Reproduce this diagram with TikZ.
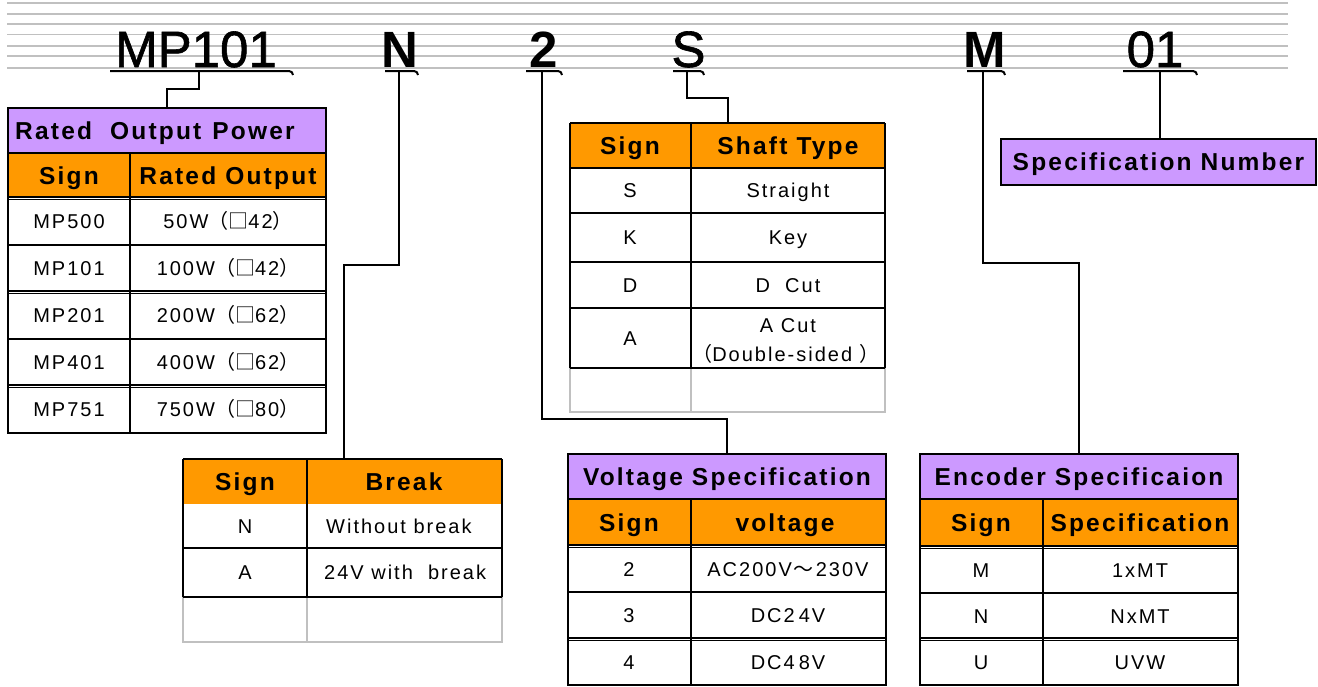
\documentclass[tikz,border=0pt]{standalone}
\usepackage{fontspec}
\setmainfont{Liberation Sans}
\newfontfamily\dfont[LetterSpace=10]{Liberation Sans}
\newfontfamily\tfont[LetterSpace=9]{Liberation Sans}
\newfontfamily\hfont[FakeBold=1.2]{Liberation Sans}
\newfontfamily\cjk{Noto Sans CJK JP}
\definecolor{purp}{HTML}{CC99FF}
\definecolor{orng}{HTML}{FF9900}
\definecolor{grayl}{HTML}{C0C0C0}
\tikzset{
  big/.style={font={\hfont\fontsize{51}{60}\selectfont}, inner sep=0pt, anchor=base},
  bigb/.style={font={\fontsize{51}{60}\selectfont\bfseries}, inner sep=0pt, anchor=base},
  ttl/.style={font={\tfont\fontsize{24.5}{29}\selectfont\bfseries}, inner sep=0pt, text height=17.5pt, text depth=0pt},
  dat/.style={font={\dfont\fontsize{20}{24}\selectfont}, inner sep=0pt, text height=14.3pt, text depth=0pt},
  bline/.style={line width=2.8pt},
  dline/.style={line width=3.8pt},
  dgap/.style={white, line width=0.9pt},
  gline/.style={draw=grayl, line width=2pt},
  conn/.style={line width=1.8pt},
  uline/.style={line width=2pt},
  stripe/.style={draw=grayl, line width=1.7pt}
}
\newcommand\ulmark[2]{\draw[uline] (#1,71) -- (#2-4,71) to[out=0,in=90] (#2,75);}
\begin{document}
\begin{tikzpicture}[x=1pt,y=-1pt]
\useasboundingbox (0,0) rectangle (1318,686);

% ---------- header code ----------
\foreach \y in {3.3,14,24.3,34.5,45.7,56,67.8} \draw[stripe] (7,\y) -- (1288,\y);
\node[big]  (h1) at (196,67)   {MP101};
\node[bigb] (h2) at (400,67)   {N};
\node[bigb] (h3) at (543.5,67) {2};
\node[big]  (h4) at (688.5,67) {S};
\node[bigb] (h5) at (985,67)   {M};
\node[big]  (h6) at (1155,67)  {01};
\ulmark{110}{293}
\ulmark{385}{418}
\ulmark{526}{562}
\ulmark{673}{704}
\ulmark{967}{1005}
\ulmark{1123}{1197}

% ---------- table 1: Rated Output Power ----------
\fill[purp] (8,108) rectangle (326,153);
\fill[orng] (8,153) rectangle (326,198);
\foreach \y in {153,245,339} \draw[bline] (8,\y) -- (326,\y);
\foreach \y in {198,292,386} \draw[dline] (8,\y) -- (326,\y);
\foreach \y in {198,292,386} \draw[dgap] (8,\y) -- (326,\y);
\draw[bline] (130,153) -- (130,433);
\draw[bline] (8,108) rectangle (326,433);
\node[ttl, anchor=west] (t1) at (15,131) {Rated\ \ Output\hspace{2pt} Power};
\node[ttl] (t1h1) at (69,176) {Sign};
\node[ttl] (t1h2) at (228,176) {Rated Output};
\node[dat] (t1a1) at (69,221.5) {MP500};
\node[dat] (t1b1) at (228,221.5) {50W{\cjk （□}42{\cjk ）}};
\node[dat] (t1a2) at (69,268.5) {MP101};
\node[dat] (t1b2) at (228,268.5) {100W{\cjk （□}42{\cjk ）}};
\node[dat] (t1a3) at (69,315.5) {MP201};
\node[dat] (t1b3) at (228,315.5) {200W{\cjk （□}62{\cjk ）}};
\node[dat] (t1a4) at (69,362.5) {MP401};
\node[dat] (t1b4) at (228,362.5) {400W{\cjk （□}62{\cjk ）}};
\node[dat] (t1a5) at (69,409.5) {MP751};
\node[dat] (t1b5) at (228,409.5) {750W{\cjk （□}80{\cjk ）}};

% ---------- table 2: Break ----------
\fill[orng] (183,459) rectangle (502,504);
\draw[gline] (183,597) -- (183,642) -- (502,642) -- (502,597);
\draw[gline] (307,597) -- (307,642);
\draw[bline] (183,548) -- (502,548);
\draw[bline] (183,597) -- (502,597);
\draw[bline] (183,459) -- (502,459);
\foreach \x in {183,307,502} \draw[bline] (\x,459) -- (\x,597);
\node[ttl] (t2h1) at (245,482) {Sign};
\node[ttl] (t2h2) at (404,482) {Break};
\node[dat] (t2a1) at (245,526) {N};
\node[dat, anchor=west] (t2b1) at (326,526) {Without break};
\node[dat] (t2a2) at (245,572.5) {A};
\node[dat, anchor=west] (t2b2) at (324,572.5) {24V with\ \ break};

% ---------- table 3: Shaft Type ----------
\fill[orng] (570,123) rectangle (885,168);
\draw[gline] (570,368) -- (570,412) -- (885,412) -- (885,368);
\draw[gline] (691,368) -- (691,412);
\foreach \y in {123,168,213,262,308,368} \draw[bline] (570,\y) -- (885,\y);
\foreach \x in {570,691,885} \draw[bline] (\x,123) -- (\x,368);
\node[ttl] (t3h1) at (630,146) {Sign};
\node[ttl] (t3h2) at (788,146) {Shaft Type};
\node[dat] (t3a1) at (630,190.5) {S};
\node[dat] (t3b1) at (788,190.5) {Straight};
\node[dat] (t3a2) at (630,237.5) {K};
\node[dat] (t3b2) at (788,237.5) {Key};
\node[dat] (t3a3) at (630,285) {D};
\node[dat] (t3b3) at (788,285) {D\ \ Cut};
\node[dat] (t3a4) at (630,338) {A};
\node[dat] (t3b4) at (788,325) {A Cut};
\node[dat] (t3c4) at (786,354) {{\cjk （}Double-sided {\cjk ）}};

% ---------- table 4: Voltage Specification ----------
\fill[purp] (568,454) rectangle (886,499);
\fill[orng] (568,499) rectangle (886,546);
\foreach \y in {499,592} \draw[bline] (568,\y) -- (886,\y);
\foreach \y in {546,639} \draw[dline] (568,\y) -- (886,\y);
\foreach \y in {546,639} \draw[dgap] (568,\y) -- (886,\y);
\draw[bline] (691,499) -- (691,685);
\draw[bline] (568,454) rectangle (886,685);
\node[ttl] (t4) at (727,477) {Voltage Specification};
\node[ttl] (t4h1) at (629,522.5) {Sign};
\node[ttl] (t4h2) at (785,522.5) {voltage};
\node[dat] (t4a1) at (629,569) {2};
\node[dat] (t4b1) at (788,569) {AC200V\hspace{2pt}{\cjk ～}\hspace{2pt}230V};
\node[dat] (t4a2) at (629,615.5) {3};
\node[dat] (t4b2) at (788,615.5) {DC2\hspace{4pt}4V};
\node[dat] (t4a3) at (629,662) {4};
\node[dat] (t4b3) at (788,662) {DC4\hspace{4pt}8V};

% ---------- table 5: Encoder Specificaion ----------
\fill[purp] (920,454) rectangle (1238,499);
\fill[orng] (920,499) rectangle (1238,547);
\foreach \y in {499,593} \draw[bline] (920,\y) -- (1238,\y);
\foreach \y in {547,639} \draw[dline] (920,\y) -- (1238,\y);
\foreach \y in {547,639} \draw[dgap] (920,\y) -- (1238,\y);
\draw[bline] (1043,499) -- (1043,685);
\draw[bline] (920,454) rectangle (1238,685);
\node[ttl] (t5) at (1079,477) {Encoder Specificaion};
\node[ttl] (t5h1) at (981,523) {Sign};
\node[ttl] (t5h2) at (1140,523) {Specification};
\node[dat] (t5a1) at (981,570) {M};
\node[dat] (t5b1) at (1140,570) {1xMT};
\node[dat] (t5a2) at (981,616) {N};
\node[dat] (t5b2) at (1140,616) {NxMT};
\node[dat] (t5a3) at (981,662) {U};
\node[dat] (t5b3) at (1140,662) {UVW};

% ---------- specification number ----------
\fill[purp] (1001,139) rectangle (1316,185);
\draw[bline] (1001,139) rectangle (1316,185);
\node[ttl] (t6) at (1158.5,162) {Specification Number};

% ---------- connectors ----------
\coordinate (u1) at (199,71);  \coordinate (k1) at (167,108);
\coordinate (u2) at (399,71);  \coordinate (k2) at (344,459);
\coordinate (u3) at (542,71);  \coordinate (k3) at (727,454);
\coordinate (u4) at (687,71);  \coordinate (k4) at (728,123);
\coordinate (u5) at (983,71);  \coordinate (k5) at (1079,454);
\coordinate (u6) at (1160,71); \coordinate (k6) at (1160,139);
\draw[conn] (u1) -- ++(0,18) -| (k1);
\draw[conn] (u2) -- ++(0,194) -| (k2);
\draw[conn] (u3) -- ++(0,348) -| (k3);
\draw[conn] (u4) -- ++(0,27) -| (k4);
\draw[conn] (u5) -- ++(0,192) -| (k5);
\draw[conn] (u6) -- (k6);
\end{tikzpicture}
\end{document}
